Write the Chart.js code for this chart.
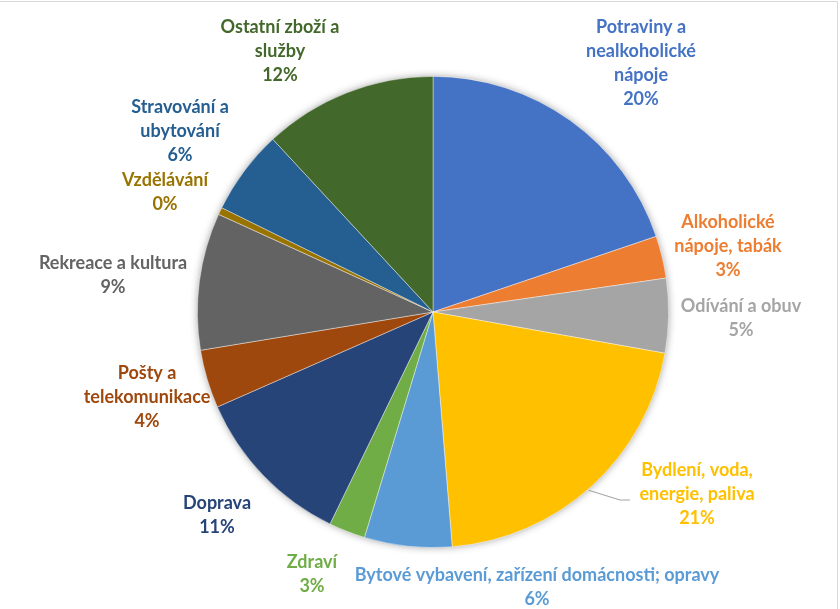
<!DOCTYPE html>
<html>
<head>
<meta charset="utf-8">
<script src="https://cdn.jsdelivr.net/npm/chart.js@4.4.1/dist/chart.umd.min.js"></script>
<style>
  html, body { margin: 0; padding: 0; background: #fff; }
  #wrap { width: 840px; height: 609px; position: relative; }
</style>
</head>
<body>
<div id="wrap"><canvas id="myChartCanvas"></canvas></div>
<script>
// data (share of spending, %)
const kategorie = [
  ['Potraviny a', 'nealkoholické', 'nápoje'],
  ['Alkoholické', 'nápoje, tabák'],
  ['Odívání a obuv'],
  ['Bydlení, voda,', 'energie, paliva'],
  ['Bytové vybavení, zařízení domácnosti; opravy'],
  ['Zdraví'],
  ['Doprava'],
  ['Pošty a', 'telekomunikace'],
  ['Rekreace a kultura'],
  ['Vzdělávání'],
  ['Stravování a', 'ubytování'],
  ['Ostatní zboží a', 'služby']
];
const podily = [19.8, 2.9, 5.1, 20.9, 6.0, 2.5, 11.2, 4.0, 9.4, 0.5, 5.8, 11.9];
const popiskyProcent = ['20%', '3%', '5%', '21%', '6%', '3%', '11%', '4%', '9%', '0%', '6%', '12%'];

const barvy = ['#4472C4', '#ED7D31', '#A5A5A5', '#FFC000', '#5B9BD5', '#70AD47',
               '#264478', '#9E480E', '#636363', '#997300', '#255E91', '#43682B'];

// where each label block sits (x center, y of first line)
const poziceLabelu = [
  [641, 27], [728, 222], [741, 306], [697, 470], [537, 575], [312, 562],
  [217, 503], [147, 373], [113, 263], [165, 180], [180, 107], [280, 27]
];
const radek = 24;

const stinPlugin = {
  id: 'stin',
  beforeDatasetsDraw(chart) {
    const arc = chart.getDatasetMeta(0).data[0];
    if (!arc) return;
    const ctx = chart.ctx;
    ctx.save();
    ctx.shadowColor = 'rgba(0,0,0,0.45)';
    ctx.shadowBlur = 9;
    ctx.beginPath();
    ctx.arc(arc.x, arc.y, arc.outerRadius - 1, 0, Math.PI * 2);
    ctx.fillStyle = '#fff';
    ctx.fill();
    ctx.restore();
  }
};

const popiskyPlugin = {
  id: 'popisky',
  afterDatasetsDraw(chart) {
    const ctx = chart.ctx;
    const meta = chart.getDatasetMeta(0);
    ctx.save();
    ctx.font = 'bold 18px Lato, "Open Sans", sans-serif';
    ctx.textAlign = 'center';
    ctx.textBaseline = 'middle';
    for (let i = 0; i < kategorie.length; i++) {
      const p = poziceLabelu[i];
      ctx.fillStyle = barvy[i];
      const radky = kategorie[i].concat([popiskyProcent[i]]);
      for (let j = 0; j < radky.length; j++) {
        ctx.fillText(radky[j], p[0], p[1] + j * radek);
      }
    }
    // leader line for Bydlení
    const a = meta.data[3];
    const mid = (a.startAngle + a.endAngle) / 2;
    const sx = a.x + Math.cos(mid) * a.outerRadius;
    const sy = a.y + Math.sin(mid) * a.outerRadius;
    ctx.strokeStyle = '#A6A6A6';
    ctx.lineWidth = 1.2;
    ctx.beginPath();
    ctx.moveTo(sx - 3, sy + 4);
    ctx.lineTo(620, 500);
    ctx.lineTo(630, 500);
    ctx.stroke();
    // light frame of the chart area (top and right edge visible)
    ctx.strokeStyle = '#D9D9D9';
    ctx.lineWidth = 1;
    ctx.beginPath();
    ctx.moveTo(0, 1.5);
    ctx.lineTo(837.5, 1.5);
    ctx.lineTo(837.5, 609);
    ctx.stroke();
    ctx.restore();
  }
};

const dados = {
  labels: kategorie.map(k => k.join(' ')),
  datasets: [{
    data: podily,
    backgroundColor: barvy,
    borderColor: 'rgba(255,255,255,0.5)',
    borderWidth: 0.8
  }]
};

const config = {
  type: 'pie',
  data: dados,
  options: {
    responsive: false,
    animation: false,
    layout: { padding: { top: 76, bottom: 61, left: 197, right: 171 } },
    plugins: {
      legend: { display: false },
      tooltip: { enabled: false }
    }
  },
  plugins: [stinPlugin, popiskyPlugin]
};

const canvas = document.getElementById('myChartCanvas');
canvas.width = 840;
canvas.height = 609;
let myChart = new Chart(canvas, config);
</script>
</body>
</html>
